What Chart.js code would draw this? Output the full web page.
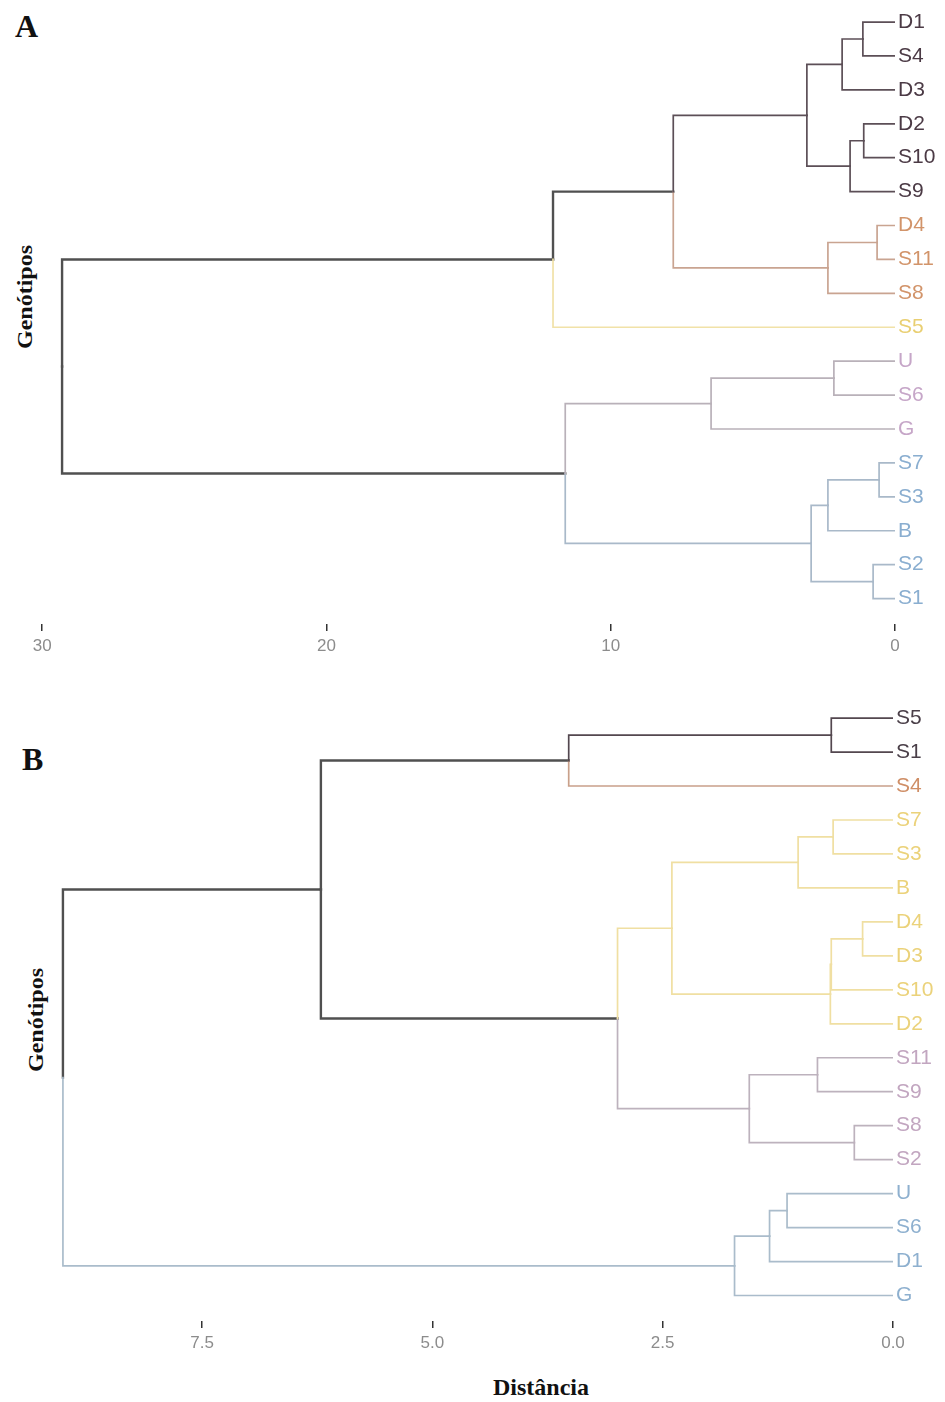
<!DOCTYPE html>
<html>
<head>
<meta charset="utf-8">
<script src="https://cdn.jsdelivr.net/npm/chart.js@4.4.0/dist/chart.umd.min.js"></script>
<style>
  body { margin: 0; background: #fff; width: 945px; height: 1402px; position: relative; overflow: hidden; font-family: "Liberation Serif", serif; }
  .panel { position: absolute; left: 0; width: 945px; }
  .tag { position: absolute; font-weight: bold; font-size: 32px; line-height: 32px; color: #111; }
  .ylab { position: absolute; font-weight: bold; font-size: 20px; white-space: nowrap; color: #111;
          transform: translate(-50%, -50%) rotate(-90deg) scaleX(1.2); }
  .xlab { position: absolute; font-weight: bold; font-size: 24px; white-space: nowrap; color: #111;
          transform: translate(-50%, -50%); }
</style>
</head>
<body>
<div class="tag" style="left:15px; top:10px;">A</div>
<div class="tag" style="left:22px; top:743px;">B</div>
<div class="ylab" style="left:25px; top:297px;">Genótipos</div>
<div class="ylab" style="left:36px; top:1020px;">Genótipos</div>
<div class="xlab" style="left:541px; top:1387px;">Distância</div>

<div class="panel" style="top:0px; height:672px;"><canvas id="chartA"></canvas></div>
<div class="panel" style="top:696px; height:673px;"><canvas id="chartB"></canvas></div>

<script>
// ---- Panel A ----
const leavesA = ['D1', 'S4', 'D3', 'D2', 'S10', 'S9', 'D4', 'S11', 'S8', 'S5', 'U', 'S6', 'G', 'S7', 'S3', 'B', 'S2', 'S1'];
const clusterA = [0, 0, 0, 0, 0, 0, 1, 1, 1, 2, 3, 3, 3, 4, 4, 4, 4, 4];
// merges like hclust: negative = leaf (1-based), positive = earlier merge step
const leftA   = [-1, -4, 1, 2, 3, -7, 6, 5, 8, -11, 10, -14, 12, -17, 13, 11, 9];
const rightA  = [-2, -5, -3, -6, 4, -8, -9, 7, -10, -12, -13, -15, -16, -18, 14, 15, 16];
const heightA = [1.13, 1.1, 1.86, 1.58, 3.1, 0.63, 2.36, 7.8, 12.03, 2.15, 6.47, 0.56, 2.36, 0.77, 2.95, 11.6, 29.3];
const ticksA = [0, 10, 20, 30];

// ---- Panel B ----
const leavesB = ['S5', 'S1', 'S4', 'S7', 'S3', 'B', 'D4', 'D3', 'S10', 'D2', 'S11', 'S9', 'S8', 'S2', 'U', 'S6', 'D1', 'G'];
const clusterB = [0, 0, 1, 2, 2, 2, 2, 2, 2, 2, 3, 3, 3, 3, 4, 4, 4, 4];
const leftB   = [-1, 1, -4, 3, -7, 5, 6, 4, -11, -13, 9, 8, 2, -15, 14, 15, 13];
const rightB  = [-2, -3, -5, -6, -8, -9, -10, 7, -12, -14, 10, 11, 12, -16, -17, -18, 16];
const heightB = [0.67, 3.52, 0.65, 1.03, 0.33, 0.67, 0.68, 2.40, 0.82, 0.42, 1.56, 2.99, 6.21, 1.15, 1.34, 1.72, 9.01];
const ticksB = [0, 2.5, 5, 7.5];

// colours per cluster (lines, labels)
const lineColorsA  = ['#5c4f57', '#c9a491', '#f1e2a8', '#b9b1b9', '#a9b9c9'];
const labelColorsA = ['#4b3a45', '#d2946a', '#e9cf72', '#c6a6c8', '#8aaed0'];
const lineColorsB  = ['#53474f', '#c9a08a', '#f0dfa2', '#bdb2bd', '#aabccb'];
const labelColorsB = ['#4a3f48', '#cf8e66', '#ebd27a', '#c2a6c0', '#8eb0cf'];
const linkColor = '#505050';

function dendroSegments(cluster, left, right, height) {
    const nodes = [];
    const get = (ref) => ref < 0 ? { h: 0, y: -ref - 1, c: cluster[-ref - 1] } : nodes[ref - 1];
    const segs = [];
    left.forEach((l, i) => {
        const a = get(l);
        const b = get(right[i]);
        const h = height[i];
        const y = (a.y + b.y) / 2;
        const c = a.c === b.c ? a.c : -1;
        nodes.push({ h: h, y: y, c: c });
        [a, b].forEach(ch => {
            segs.push({ c: ch.c, pts: [{ x: ch.h, y: ch.y }, { x: h, y: ch.y }, { x: h, y: y }] });
        });
    });
    return segs;
}

function makeChart(id, leaves, cluster, left, right, height, xTicks, xMax, lineColors, labelColors, decimals, yWidth) {
    const segs = dendroSegments(cluster, left, right, height);
    // draw the grey upper links last so they sit on top
    segs.sort((p, q) => (p.c < 0 ? 1 : 0) - (q.c < 0 ? 1 : 0));
    const datasets = segs.map(s => ({
        data: s.pts,
        showLine: true,
        pointRadius: 0,
        pointHoverRadius: 0,
        fill: false,
        tension: 0,
        borderColor: s.c < 0 ? linkColor : lineColors[s.c],
        borderWidth: s.c < 0 ? 2.4 : 1.7,
        borderJoinStyle: 'miter',
        borderCapStyle: 'square'
    }));

    return new Chart(document.getElementById(id), {
        type: 'scatter',
        data: { datasets: datasets },
        options: {
            responsive: true,
            maintainAspectRatio: false,
            animation: false,
            events: [],
            layout: { padding: { left: 20, right: 0, top: 0, bottom: 0 } },
            plugins: { legend: { display: false }, tooltip: { enabled: false } },
            scales: {
                x: {
                    type: 'linear',
                    position: 'bottom',
                    reverse: true,
                    min: 0,
                    max: xMax,
                    afterBuildTicks: s => { s.ticks = xTicks.map(v => ({ value: v })); },
                    afterFit: s => { s.height = 48; s.paddingLeft = 0; s.paddingRight = 0; },
                    ticks: {
                        color: '#8c8c8c',
                        font: { size: 17, family: 'Liberation Sans' },
                        padding: 5,
                        maxRotation: 0,
                        autoSkip: false,
                        callback: v => decimals ? Number(v).toFixed(1) : String(v)
                    },
                    grid: { display: true, drawOnChartArea: false, drawTicks: true, tickLength: 7, color: '#333', lineWidth: 1.5 },
                    border: { display: false }
                },
                y: {
                    type: 'linear',
                    position: 'right',
                    reverse: true,
                    min: -0.65,
                    max: 17.75,
                    afterBuildTicks: s => { s.ticks = leaves.map((_, i) => ({ value: i })); },
                    afterFit: s => { s.width = yWidth; s.paddingTop = 0; s.paddingBottom = 0; },
                    ticks: {
                        autoSkip: false,
                        padding: 3,
                        font: { size: 21, family: 'Liberation Sans' },
                        color: ctx => labelColors[cluster[ctx.tick ? ctx.tick.value : ctx.index]],
                        callback: v => leaves[v]
                    },
                    grid: { display: false, drawTicks: false },
                    border: { display: false }
                }
            }
        }
    });
}

makeChart('chartA', leavesA, clusterA, leftA, rightA, heightA, ticksA, 30.78, lineColorsA, labelColorsA, false, 50);
makeChart('chartB', leavesB, clusterB, leftB, rightB, heightB, ticksB, 9.476, lineColorsB, labelColorsB, true, 52);
</script>
</body>
</html>
